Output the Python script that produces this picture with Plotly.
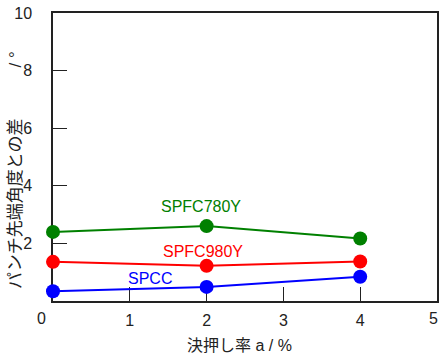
import plotly.graph_objects as go

# Pressing ratio a / % and the angle difference for each steel grade
rate = [0, 2, 4]
spcc = [0.34, 0.49, 0.84]
spfc980y = [1.36, 1.22, 1.37]
spfc780y = [2.40, 2.60, 2.17]

series_names = ["SPFC780Y", "SPFC980Y", "SPCC"]
series_colors = ["#008000", "#ff0000", "#0000ff"]
series_values = [spfc780y, spfc980y, spcc]

# Label anchor positions (data coordinates) for each series name
label_x = [1.93, 1.95, 1.26]
label_y = [3.28, 1.71, 0.78]

x_ticks = [0, 1, 2, 3, 4, 5]
x_ticktext = ["", "1", "2", "3", "4", ""]
y_ticks = [0, 2, 4, 6, 8, 10]
y_ticktext = ["", "2", "4", "6", "8", "10"]

FONT = "Liberation Sans, Arial, Noto Sans CJK JP, sans-serif"
INK = "#222"

fig = go.Figure()
for name, color, vals in zip(series_names, series_colors, series_values):
    fig.add_trace(go.Scatter(
        x=rate, y=vals, mode="lines+markers", name=name,
        line=dict(color=color, width=2),
        marker=dict(color=color, size=14),
        cliponaxis=False,
    ))

for name, color, lx, ly in zip(series_names, series_colors, label_x, label_y):
    fig.add_annotation(x=lx, y=ly, text=name, showarrow=False,
                       font=dict(family=FONT, size=16, color=color),
                       xanchor="center", yanchor="middle")

# Shared origin label and the last x label, nudged inside the page
fig.add_annotation(xref="paper", yref="paper", x=-0.031, y=-0.061,
                   text="0", showarrow=False,
                   font=dict(family=FONT, size=16, color=INK),
                   xanchor="center", yanchor="middle")
fig.add_annotation(xref="paper", yref="paper", x=0.991, y=-0.061,
                   text="5", showarrow=False,
                   font=dict(family=FONT, size=16, color=INK),
                   xanchor="center", yanchor="middle")

# Axis titles
fig.add_annotation(xref="paper", yref="paper", x=0.486, y=-0.154,
                   text="決押し率 a / %", showarrow=False,
                   font=dict(family=FONT, size=16, color=INK),
                   xanchor="center", yanchor="middle")
fig.add_annotation(xref="paper", yref="paper", x=-0.096, y=0.455,
                   text="パンチ先端角度との差　　　/ °", showarrow=False,
                   textangle=-90,
                   font=dict(family=FONT, size=17, color=INK),
                   xanchor="center", yanchor="middle")

axis_common = dict(
    showgrid=False, zeroline=False, showline=True, linecolor=INK,
    linewidth=1.5, mirror=True, ticks="inside", ticklen=14, tickwidth=1.2,
    tickcolor=INK, tickmode="array", layer="below traces",
    tickfont=dict(family=FONT, size=16, color=INK),
)

fig.update_xaxes(range=[0, 5], tickvals=x_ticks, ticktext=x_ticktext,
                 ticklabelstandoff=4, **axis_common)
fig.update_yaxes(range=[0, 10], tickvals=y_ticks, ticktext=y_ticktext,
                 ticklabelstandoff=16, **axis_common)

fig.update_layout(
    width=441, height=356,
    margin=dict(l=53, r=4, t=13, b=55, autoexpand=False),
    paper_bgcolor="white", plot_bgcolor="white",
    showlegend=False,
    font=dict(family=FONT, size=16, color=INK),
)

fig.write_html("out.html")
